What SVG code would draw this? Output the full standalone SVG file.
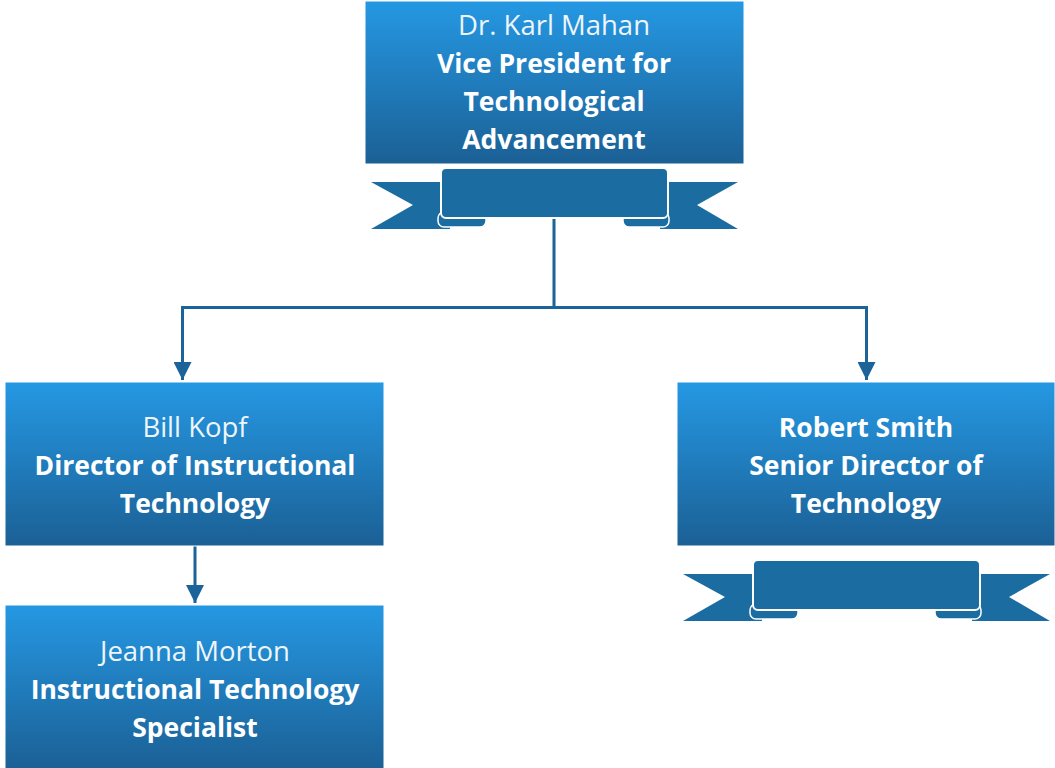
<svg xmlns="http://www.w3.org/2000/svg" width="1055" height="768" viewBox="0 0 1055 768">
<defs>
<linearGradient id="g" x1="0" y1="0" x2="0" y2="1">
<stop offset="0" stop-color="#2598e3"/>
<stop offset="1" stop-color="#1b6095"/>
</linearGradient>
<marker id="ah" viewBox="0 0 18 18" refX="18" refY="9" markerWidth="18" markerHeight="18" markerUnits="userSpaceOnUse" orient="auto">
<path d="M0,0 L18,9 L0,18 Z" fill="#1b6399"/>
</marker>
<g id="ribbon">
<polygon points="371,182 450,182 450,229 371,229 413,205" fill="#1a6ca1"/>
<polygon points="738,182 660,182 660,229 738,229 697,205" fill="#1a6ca1"/>
<rect x="438" y="212" width="48" height="15" rx="6" fill="#1a6ca1" stroke="#fff" stroke-width="1.5"/>
<rect x="623" y="212" width="46" height="15" rx="6" fill="#1a6ca1" stroke="#fff" stroke-width="1.5"/>
<rect x="441" y="168" width="227" height="50" rx="5" fill="#1a6ca1" stroke="#fff" stroke-width="2"/>
</g>
</defs>
<style>
.box{fill:url(#g);stroke:#fff;stroke-width:1}
.t{font-family:"Open Sans","Liberation Sans",sans-serif;font-size:26.5px;fill:#fff;text-anchor:middle}
.n{font-weight:normal;font-size:27.5px;fill:#eef5fb}
.b{font-weight:bold}
.c{fill:none;stroke:#1b6399;stroke-width:3}
</style>
<g id="connectors">
<path class="c" d="M554,218 V307.5 M182.5,307.5 H866.5"/>
<path class="c" d="M182.5,306 V380" marker-end="url(#ah)"/>
<path class="c" d="M866.5,306 V380" marker-end="url(#ah)"/>
<path class="c" d="M195,546 V603" marker-end="url(#ah)"/>
</g>
<g id="vp">
<rect class="box" x="365" y="1" width="379" height="163"/>
<text class="t n" x="554" y="35">Dr. Karl Mahan</text>
<text class="t b" x="554" y="73">Vice President for</text>
<text class="t b" x="554" y="111">Technological</text>
<text class="t b" x="554" y="149">Advancement</text>
<use href="#ribbon"/>
</g>
<g id="kopf">
<rect class="box" x="5" y="382" width="379" height="164"/>
<text class="t n" x="195" y="437">Bill Kopf</text>
<text class="t b" x="195" y="475">Director of Instructional</text>
<text class="t b" x="195" y="513">Technology</text>
</g>
<g id="smith">
<rect class="box" x="677" y="382" width="378" height="164"/>
<text class="t b" x="866" y="437">Robert Smith</text>
<text class="t b" x="866" y="475">Senior Director of</text>
<text class="t b" x="866" y="513">Technology</text>
<use href="#ribbon" x="312" y="392"/>
</g>
<g id="morton">
<rect class="box" x="5" y="605" width="379" height="164"/>
<text class="t n" x="195" y="661">Jeanna Morton</text>
<text class="t b" x="195" y="699">Instructional Technology</text>
<text class="t b" x="195" y="737">Specialist</text>
</g>
</svg>
